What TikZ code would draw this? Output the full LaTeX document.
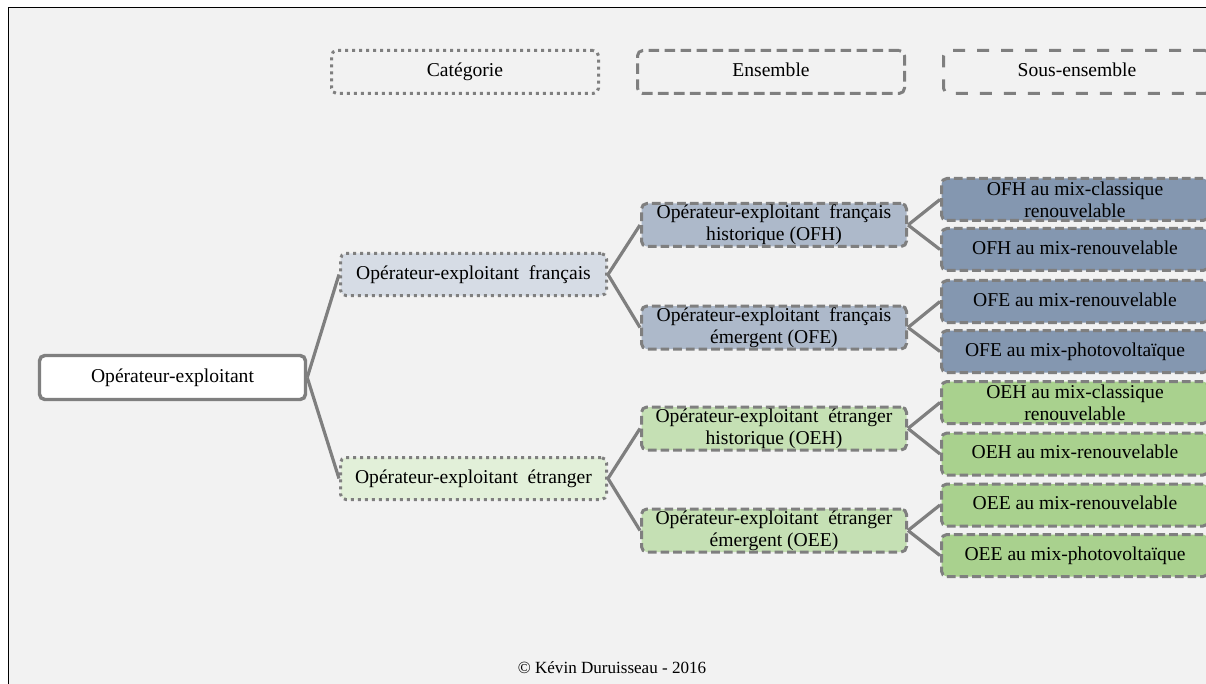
\documentclass[tikz,border=0pt]{standalone}
\usepackage{fontspec}
\setmainfont{Liberation Serif}
\pgfdeclarelayer{bg}
\pgfdeclarelayer{lines}
\pgfsetlayers{bg,lines,main}
\definecolor{bggrey}{HTML}{F2F2F2}
\definecolor{edgegrey}{HTML}{7F7F7F}
\definecolor{catblue}{HTML}{D6DCE5}
\definecolor{ensblue}{HTML}{ADB9CA}
\definecolor{subblue}{HTML}{8497B0}
\definecolor{catgreen}{HTML}{E2F0D9}
\definecolor{ensgreen}{HTML}{C5E0B4}
\definecolor{subgreen}{HTML}{A9D18E}
\tikzset{
  box/.style={draw=edgegrey, line width=2.25pt, rounded corners=4pt, inner sep=0pt,
    align=center, font=\fontsize{14.7}{16.3}\selectfont, text=black},
  oneline/.style={text height=10.5pt, text depth=3.5pt},
  rootbox/.style={box, oneline, fill=white, line width=2.6pt, minimum width=266*0.75pt, minimum height=44*0.75pt},
  dotbox/.style={box, dash pattern=on 2.25pt off 3pt},
  dashbox/.style={box, dash pattern=on 6.5pt off 3pt},
  widedash/.style={box, dash pattern=on 9pt off 9pt},
  catbox/.style={dotbox, oneline, minimum width=266*0.75pt, minimum height=42*0.75pt},
  ensbox/.style={dashbox, minimum width=265*0.75pt, minimum height=43*0.75pt},
  subbox/.style={dashbox, minimum width=267*0.75pt, minimum height=42*0.75pt},
  headbox/.style={oneline, minimum width=267*0.75pt, minimum height=43*0.75pt},
  link/.style={draw=edgegrey, line width=2.4pt},
}
\begin{document}
\begin{tikzpicture}[x=0.75pt,y=-0.75pt]
\useasboundingbox (0,0) rectangle (1206,684);
\begin{pgfonlayer}{bg}
  \fill[white] (0,0) rectangle (1206,684);
  \fill[bggrey] (8,8) rectangle (1206,684);
  \draw[black, line width=0.75pt] (8,684) -- (8,8) -- (1206,8);
\end{pgfonlayer}

% headers
\node[dotbox, headbox] (hcat) at (465,72) {Catégorie};
\node[dashbox, headbox, dash pattern=on 8pt off 4pt] (hens) at (771,72) {Ensemble};
\node[widedash, headbox] (hsub) at (1077,72) {Sous-ensemble};

% root
\node[rootbox] (root) at (172.5,377.5) {Opérateur-exploitant};

% categories
\node[catbox, fill=catblue] (catF) at (473.5,274.5) {Opérateur-exploitant\ \ français};
\node[catbox, fill=catgreen] (catE) at (473.5,478.5) {Opérateur-exploitant\ \ étranger};

% ensembles
\node[ensbox, fill=ensblue] (ofh) at (774,225) {Opérateur-exploitant\ \ français\\historique (OFH)};
\node[ensbox, fill=ensblue] (ofe) at (774,327.5) {Opérateur-exploitant\ \ français\\émergent (OFE)};
\node[ensbox, fill=ensgreen] (oeh) at (774,428.5) {Opérateur-exploitant\ \ étranger\\historique (OEH)};
\node[ensbox, fill=ensgreen] (oee) at (774,530.5) {Opérateur-exploitant\ \ étranger\\émergent (OEE)};

% sous-ensembles
\node[subbox, fill=subblue] (s1) at (1075,199.5) {OFH au mix-classique\\renouvelable};
\node[subbox, oneline, fill=subblue] (s2) at (1075,249.5) {OFH au mix-renouvelable};
\node[subbox, oneline, fill=subblue] (s3) at (1075,301.5) {OFE au mix-renouvelable};
\node[subbox, oneline, fill=subblue] (s4) at (1075,351.5) {OFE au mix-photovoltaïque};
\node[subbox, fill=subgreen] (s5) at (1075,402.5) {OEH au mix-classique\\renouvelable};
\node[subbox, oneline, fill=subgreen] (s6) at (1075,454) {OEH au mix-renouvelable};
\node[subbox, oneline, fill=subgreen] (s7) at (1075,505) {OEE au mix-renouvelable};
\node[subbox, oneline, fill=subgreen] (s8) at (1075,555.5) {OEE au mix-photovoltaïque};

% connectors
\begin{pgfonlayer}{lines}
  \draw[link] (root.east) -- (catF.west);
  \draw[link] (root.east) -- (catE.west);
  \draw[link] (catF.east) -- (ofh.west);
  \draw[link] (catF.east) -- (ofe.west);
  \draw[link] (catE.east) -- (oeh.west);
  \draw[link] (catE.east) -- (oee.west);
  \draw[link] (ofh.east) -- (s1.west);
  \draw[link] (ofh.east) -- (s2.west);
  \draw[link] (ofe.east) -- (s3.west);
  \draw[link] (ofe.east) -- (s4.west);
  \draw[link] (oeh.east) -- (s5.west);
  \draw[link] (oeh.east) -- (s6.west);
  \draw[link] (oee.east) -- (s7.west);
  \draw[link] (oee.east) -- (s8.west);
\end{pgfonlayer}

% footer
\node[font=\fontsize{12.8}{15}\selectfont, text=black, inner sep=0pt] (copy) at (612,668) {© Kévin Duruisseau - 2016};
\end{tikzpicture}
\end{document}
